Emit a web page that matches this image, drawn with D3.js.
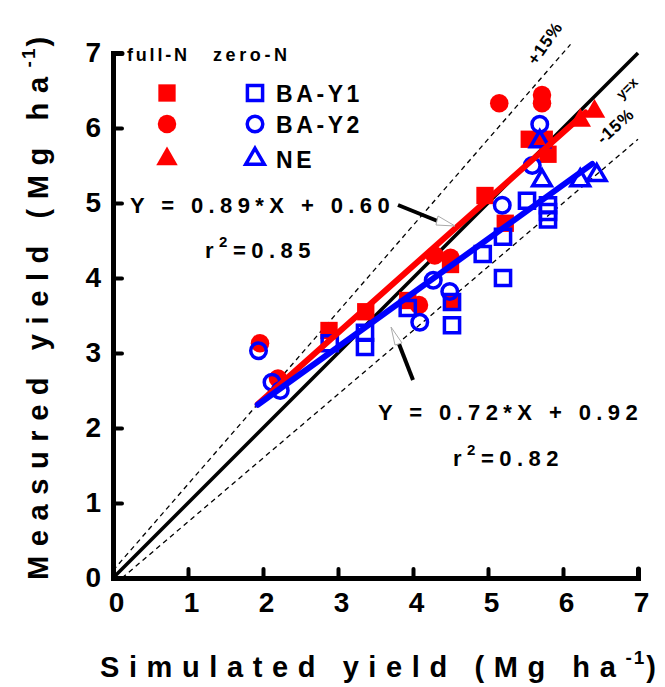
<!DOCTYPE html>
<html><head><meta charset="utf-8">
<script src="https://cdn.jsdelivr.net/npm/d3@7"></script>
<style>body{margin:0;background:#fff}svg{display:block}text{font-family:"Liberation Sans",Arial,sans-serif;font-weight:bold}</style>
</head><body>
<svg id="c" width="665" height="687"></svg>
<script>
const xTicks=[0,1,2,3,4,5,6,7];
const yTicks=[0,1,2,3,4,5,6,7];
const fullY1=[[2.88,3.3],[3.37,3.55],[3.93,3.7],[4.52,3.68],[4.5,4.18],[4.96,5.1],[5.23,4.73],[5.55,5.85],[5.8,5.65],[5.75,5.85]];
const fullY2=[[1.96,3.13],[2.2,2.66],[4.08,3.64],[4.29,4.3],[4.5,4.27],[5.15,6.33],[5.72,6.44],[5.72,6.33]];
const fullNE=[[6.23,6.1],[6.42,6.22]];
const zeroY1=[[2.89,3.13],[3.36,3.27],[3.36,3.08],[3.93,3.6],[4.52,3.68],[4.52,3.37],[4.93,4.32],[5.2,4.0],[5.2,4.55],[5.52,5.03],[5.8,4.97],[5.8,4.88],[5.8,4.78]];
const zeroY2=[[1.94,3.03],[2.12,2.61],[2.23,2.5],[4.09,3.41],[4.27,3.97],[4.49,3.82],[5.19,4.97],[5.59,5.5],[5.69,6.05]];
const zeroNE=[[5.69,5.82],[5.72,5.3],[6.23,5.3],[6.45,5.37]];
const fitFull={a:0.89,b:0.60,x0:1.93,x1:6.3};
const fitZero={a:0.72,b:0.92,x0:1.93,x1:6.39};

const svg=d3.select("#c");
const x=d3.scaleLinear().domain([0,7]).range([113,638]);
const y=d3.scaleLinear().domain([0,7]).range([578,53]);
const line=d3.line().x(d=>x(d[0])).y(d=>y(d[1]));

// reference lines
svg.append("path").attr("d",line([[0,0],[7,7]])).attr("stroke","#000").attr("stroke-width",3.5).attr("fill","none");
svg.append("path").attr("d",line([[0,0.1],[6.1,7.115]])).attr("stroke","#000").attr("stroke-width",1.3).attr("stroke-dasharray","5,4").attr("fill","none");
svg.append("path").attr("d",line([[0.12,0],[7,5.85]])).attr("stroke","#000").attr("stroke-width",1.3).attr("stroke-dasharray","5,4").attr("fill","none");

// axes
const ax=svg.append("g").attr("transform",`translate(0,${y(0)})`).call(d3.axisBottom(x).tickValues(xTicks).tickSize(-9).tickPadding(14).tickFormat(d3.format("d")));
const ay=svg.append("g").attr("transform",`translate(${x(0)},0)`).call(d3.axisLeft(y).tickValues(yTicks).tickSize(-9).tickPadding(10).tickFormat(d3.format("d")));
[ax,ay].forEach(g=>{
  g.select(".domain").attr("stroke","#000").attr("stroke-width",5).attr("stroke-linecap","round");
  g.selectAll(".tick line").attr("stroke","#000").attr("stroke-width",4).attr("stroke-linecap","round");
  g.selectAll(".tick text").attr("fill","#000").attr("font-size",28).attr("font-weight","bold").attr("font-family","Liberation Sans, Arial");
});
ay.selectAll(".tick text").attr("dx",-2);
ax.selectAll(".tick text").attr("dx",3);

// markers
function filled(data,type,size,color){
  svg.append("g").selectAll("path").data(data).join("path")
   .attr("d",d3.symbol().type(type).size(size)).attr("transform",d=>`translate(${x(d[0])},${y(d[1])})`).attr("fill",color);
}
function open(data,type,size,color){
  svg.append("g").selectAll("path").data(data).join("path")
   .attr("d",d3.symbol().type(type).size(size)).attr("transform",d=>`translate(${x(d[0])},${y(d[1])})`).attr("fill","none").attr("stroke",color).attr("stroke-width",3.5);
}
const RED="#ff0000",BLUE="#0000ff";
filled(fullY1,d3.symbolSquare,300,RED);
filled(fullY2,d3.symbolCircle,270,RED);
filled(fullNE,d3.symbolTriangle,200,RED);
open(zeroY1,d3.symbolSquare,230,BLUE);
open(zeroY2,d3.symbolCircle,190,BLUE);
open(zeroNE,d3.symbolTriangle,150,BLUE);

// regression lines
svg.append("path").attr("d",line([[fitFull.x0,fitFull.a*fitFull.x0+fitFull.b],[fitFull.x1,fitFull.a*fitFull.x1+fitFull.b]])).attr("stroke",RED).attr("stroke-width",6).attr("stroke-linecap","round").attr("fill","none");
svg.append("path").attr("d",line([[fitZero.x0,fitZero.a*fitZero.x0+fitZero.b],[fitZero.x1,fitZero.a*fitZero.x1+fitZero.b]])).attr("stroke",BLUE).attr("stroke-width",6).attr("stroke-linecap","round").attr("fill","none");

// legend
svg.append("text").attr("x",127).attr("y",61).attr("font-size",18).attr("letter-spacing",2.8).text("full-N");
svg.append("text").attr("x",213).attr("y",61).attr("font-size",18).attr("letter-spacing",3.6).text("zero-N");
const legRows=[[d3.symbolSquare,"BA-Y1",93],[d3.symbolCircle,"BA-Y2",124],[d3.symbolTriangle,"NE",159]];
const legSize={full:[300,270,200],zero:[230,190,150]};
legRows.forEach((r,i)=>{
  svg.append("path").attr("d",d3.symbol().type(r[0]).size(legSize.full[i])).attr("transform",`translate(167,${r[2]})`).attr("fill",RED);
  svg.append("path").attr("d",d3.symbol().type(r[0]).size(legSize.zero[i])).attr("transform",`translate(255,${r[2]})`).attr("fill","none").attr("stroke",BLUE).attr("stroke-width",3.5);
  svg.append("text").attr("x",276).attr("y",r[2]+9).attr("font-size",23).attr("letter-spacing",3.6).text(r[1]);
});

// equations
svg.append("text").attr("x",130).attr("y",213).attr("font-size",22).attr("letter-spacing",5.4).attr("xml:space","preserve").text("Y = 0.89*X + 0.60");
const r1=svg.append("text").attr("x",205).attr("y",258).attr("font-size",22).attr("letter-spacing",5.5);
r1.append("tspan").text("r");r1.append("tspan").attr("dy",-11).attr("font-size",15).text("2");r1.append("tspan").attr("dy",11).text("=0.85");
svg.append("text").attr("x",378).attr("y",420).attr("font-size",22).attr("letter-spacing",5.4).attr("xml:space","preserve").text("Y = 0.72*X + 0.92");
const r2=svg.append("text").attr("x",453).attr("y",466).attr("font-size",22).attr("letter-spacing",5.5);
r2.append("tspan").text("r");r2.append("tspan").attr("dy",-11).attr("font-size",15).text("2");r2.append("tspan").attr("dy",11).text("=0.82");

// arrows
svg.append("line").attr("x1",398).attr("y1",205).attr("x2",440).attr("y2",222).attr("stroke","#000").attr("stroke-width",4);
svg.append("path").attr("d","M438,216 L455,226 L436,225 Z").attr("fill","#fff").attr("stroke","#aaa").attr("stroke-width",1);
svg.append("line").attr("x1",413).attr("y1",380).attr("x2",399).attr("y2",344).attr("stroke","#000").attr("stroke-width",4);
svg.append("path").attr("d","M391,327 L402,343 L395,345 Z").attr("fill","#fff").attr("stroke","#aaa").attr("stroke-width",1);

// line labels
svg.append("text").attr("transform","translate(536,66) rotate(-55)").attr("font-size",17).attr("letter-spacing",1).text("+15%");
svg.append("text").attr("transform","translate(622,100) rotate(-45)").attr("font-size",14).attr("font-weight","normal").text("y=x");
svg.append("text").attr("transform","translate(603,145) rotate(-42)").attr("font-size",17).attr("letter-spacing",1).text("-15%");

// axis titles
const xt=svg.append("text").attr("x",100).attr("y",677).attr("font-size",29).attr("letter-spacing",9.6);
xt.append("tspan").text("Simulated yield (Mg ha");xt.append("tspan").attr("dy",-13).attr("font-size",19).attr("letter-spacing",2).text("-1");xt.append("tspan").attr("dy",13).attr("letter-spacing",0).text(")");
const yt=svg.append("text").attr("transform","translate(48,580) rotate(-90)").attr("font-size",29).attr("letter-spacing",9.6);
yt.append("tspan").text("Measured yield (Mg ha");yt.append("tspan").attr("dy",-13).attr("font-size",19).attr("letter-spacing",2).text("-1");yt.append("tspan").attr("dy",13).attr("letter-spacing",0).text(")");
</script>
</body></html>
